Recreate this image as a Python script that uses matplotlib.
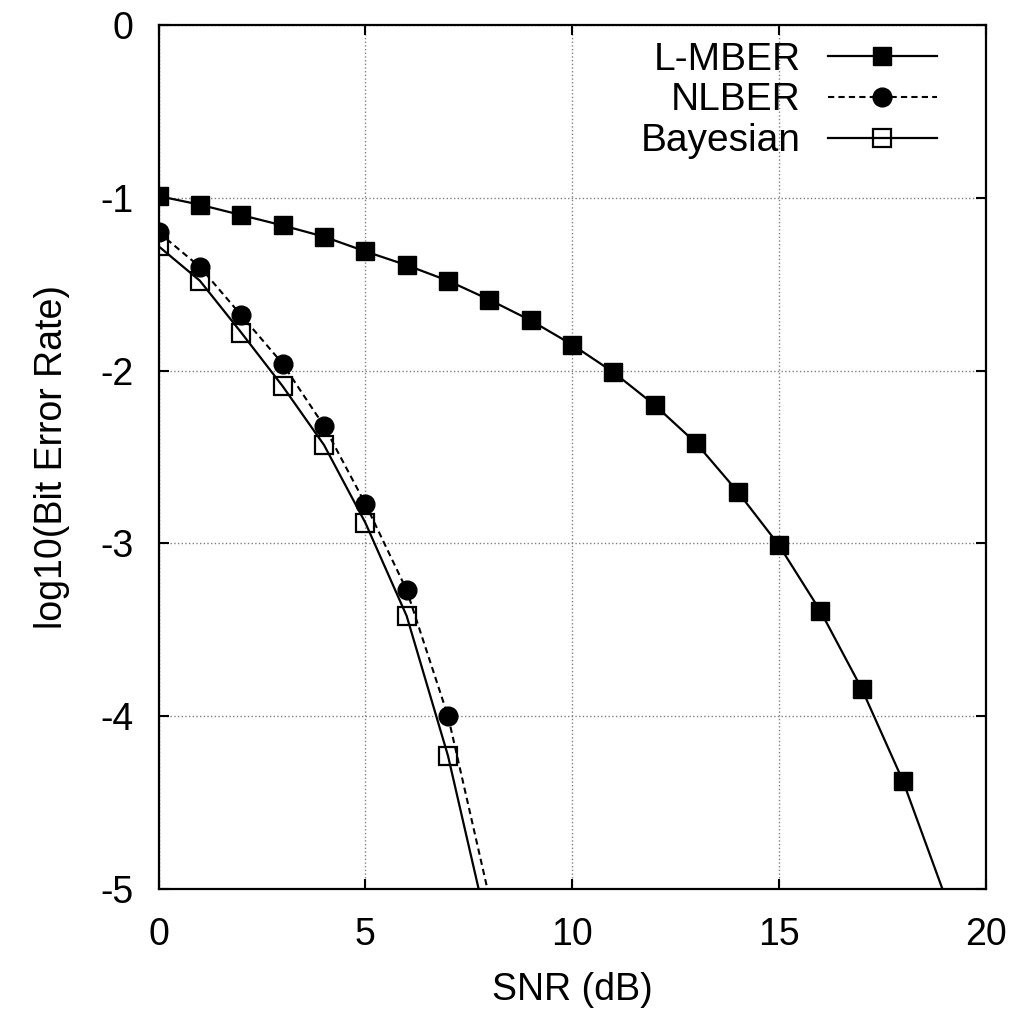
import numpy as np
import matplotlib.pyplot as plt

plt.rcParams['font.family'] = ['Liberation Sans', 'DejaVu Sans']
plt.rcParams['axes.unicode_minus'] = False

# SNR (dB) values
snr_lmber = [0, 1, 2, 3, 4, 5, 6, 7, 8, 9, 10, 11, 12, 13, 14, 15, 16, 17, 18, 19]
snr_nlber = [0, 1, 2, 3, 4, 5, 6, 7, 8]
snr_bayes = [0, 1, 2, 3, 4, 5, 6, 7, 8]

# log10(BER)
ber_lmber = [-0.99, -1.04, -1.10, -1.16, -1.225, -1.31, -1.39, -1.48, -1.59, -1.71,
             -1.85, -2.01, -2.20, -2.42, -2.70, -3.01, -3.39, -3.84, -4.375, -5.03]
ber_nlber = [-1.20, -1.40, -1.68, -1.96, -2.32, -2.77, -3.27, -4.00, -5.05]
ber_bayes = [-1.28, -1.48, -1.78, -2.09, -2.43, -2.88, -3.42, -4.23, -5.27]

ymin, ymax = -5, 0


def inside(vals):
    # like gnuplot: points out of range are not drawn, the line is clipped
    return [bool(v >= ymin) for v in vals]


fig = plt.figure(figsize=(10.3, 10.15), dpi=100)
ax = fig.add_axes([0.1539, 0.1241, 0.8031, 0.8513])

ax.plot(snr_lmber, ber_lmber, color='black', linewidth=1.6, marker='s',
        markersize=13.5, markerfacecolor='black', markevery=inside(ber_lmber),
        label='L-MBER')
ax.plot(snr_nlber, ber_nlber, color='black', linewidth=1.5, linestyle=(0, (3, 2)),
        marker='o', markersize=13.5, markerfacecolor='black',
        markevery=inside(ber_nlber), label='NLBER')
ax.plot(snr_bayes, ber_bayes, color='black', linewidth=1.6, marker='s',
        markersize=13.5, markerfacecolor='none', markeredgewidth=1.6,
        markevery=inside(ber_bayes), label='Bayesian')

ax.set_xlim(0, 20)
ax.set_ylim(ymin, ymax)
ax.set_xticks([0, 5, 10, 15, 20])
ax.set_yticks([-5, -4, -3, -2, -1, 0])

ax.grid(True, color='gray', linestyle=':', linewidth=1.0)
for s in ax.spines.values():
    s.set_linewidth(1.6)
ax.tick_params(direction='in', length=7, width=1.5, top=True, right=True, labelsize=27)
ax.tick_params(axis='x', pad=20)
ax.tick_params(axis='y', pad=18)

ax.set_xlabel('SNR (dB)', fontsize=27, labelpad=14)
ax.set_ylabel('log10(Bit Error Rate)', fontsize=27, labelpad=22)

ax.legend(loc='upper right', bbox_to_anchor=(0.988, 1.0255), frameon=False,
          markerfirst=False, fontsize=28, handlelength=2.8, handletextpad=0.7,
          labelspacing=0.12, borderaxespad=0.8, borderpad=0.2)

plt.savefig('out.png', dpi=100)
